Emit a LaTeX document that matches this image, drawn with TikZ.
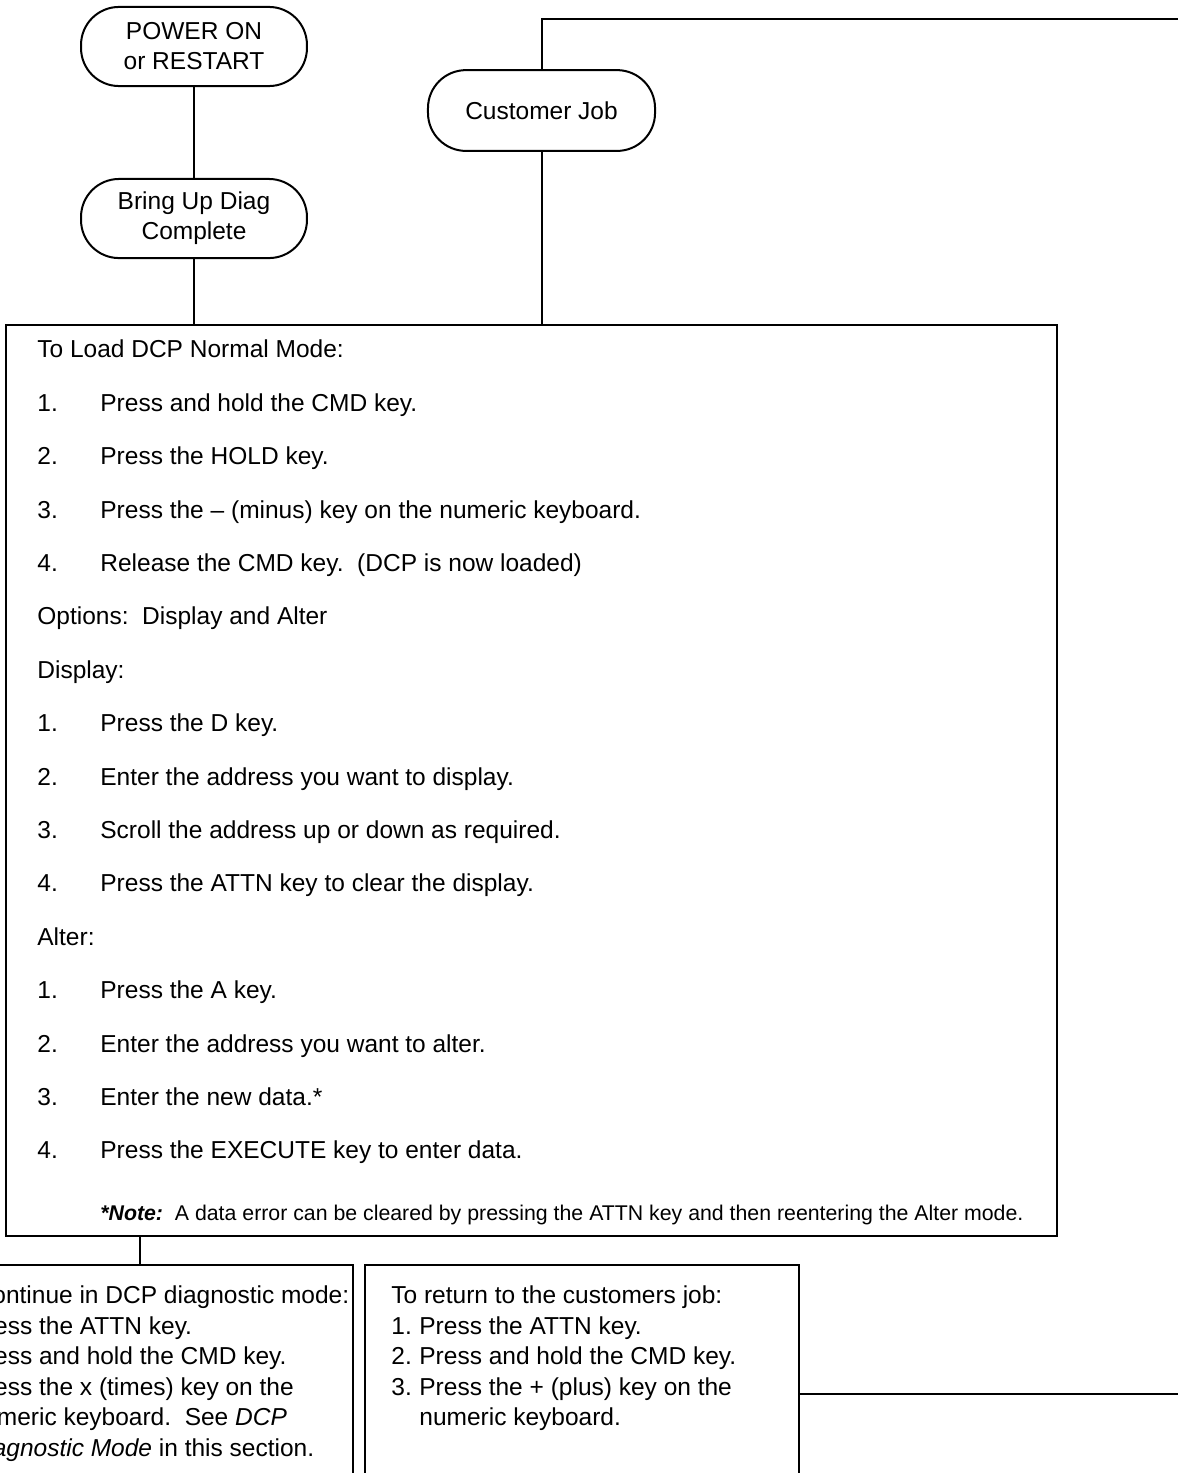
\documentclass[tikz,border=0pt]{standalone}
\usepackage{fontspec}
\setmainfont{Liberation Sans}
\tikzset{
  term/.style={rectangle, rounded corners=19pt, draw, line width=1pt, align=center,
               minimum width=3.97cm, minimum height=1.39cm, inner sep=2pt,
               font=\fontsize{12.25}{15}\selectfont},
  panel/.style={rectangle, draw, line width=1pt, inner sep=0pt},
  wire/.style={line width=1pt},
  row/.style={anchor=west, inner sep=0pt, text height=8.8pt, text depth=0pt,
              font=\fontsize{12.25}{14}\selectfont},
  fine/.style={anchor=west, inner sep=0pt, text height=7.6pt, text depth=0pt,
               font=\fontsize{10.65}{12}\selectfont},
}

\begin{document}
\begin{tikzpicture}
  \useasboundingbox (0,0) rectangle (20.70,-25.885);
  \clip (0,0) rectangle (20.70,-25.885);

  % --- terminals
  \node[term] (power) at (3.409,-0.817) {POWER ON\\or RESTART};
  \node[term] (diag)  at (3.409,-3.840) {Bring Up Diag\\Complete};
  \node[term, minimum width=3.99cm, minimum height=1.42cm] (cust) at (9.516,-1.942) {Customer Job};

  % --- main panel
  \node[panel, minimum width=18.47cm, minimum height=16.01cm] (dcp) at (9.340,-13.716) {};

  \coordinate (topend) at (21.2,-0.334);
  \coordinate (retend) at (21.2,-24.497);
  \draw[wire] (power) -- (diag);
  \draw[wire] (diag.south) -- (diag.south |- dcp.north);
  \draw[wire] (cust.south) -- (cust.south |- dcp.north);
  \draw[wire] (cust.north) |- (topend);

  % headings (rows 0, 5, 6, 11; pitch 0.9384)
  \node[row] (h0) at (0.650,-6.133)  {To Load DCP Normal Mode:};
  \node[row] (h1) at (0.650,-10.825) {Options:\ \ Display and Alter};
  \node[row] (h2) at (0.650,-11.763) {Display:};
  \node[row] (h3) at (0.650,-16.455) {Alter:};

  % numbered steps
  \foreach \i/\k/\t in {1/1/Press and hold the CMD key.,
                        2/2/Press the HOLD key.,
                        3/3/Press the -- (minus) key on the numeric keyboard.,
                        4/4/Release the CMD key.\ \ (DCP is now loaded),
                        7/1/Press the D key.,
                        8/2/Enter the address you want to display.,
                        9/3/Scroll the address up or down as required.,
                        10/4/Press the ATTN key to clear the display.,
                        12/1/Press the A key.,
                        13/2/Enter the address you want to alter.,
                        14/3/Enter the new data.*,
                        15/4/Press the EXECUTE key to enter data.}{
    \node[row] (n\i) at (0.650,{-6.133-0.9384*\i}) {\k.};
    \node[row] (s\i) at (1.757,{-6.133-0.9384*\i}) {\t};
  }
  \node[fine] (note) at (1.757,-21.316) {\textbf{\textit{*Note:}}\ \ A data error can be cleared by pressing the ATTN key and then reentering the Alter mode.};

  % --- lower panels
  \node[panel, minimum width=7.49cm, minimum height=4.66cm] (cont) at (2.460,-24.558) {};
  \node[panel, minimum width=7.63cm, minimum height=4.66cm] (back) at (10.228,-24.558) {};
  \draw[wire] (cont.north) -- (cont.north |- dcp.south);
  \draw[wire] (back.east |- retend) -- (retend);

  \node[row] (c0) at (-0.93,-22.757) {To continue in DCP diagnostic mode:};
  \node[row] (r0) at (6.871,-22.757) {To return to the customers job:};
  \foreach \i/\t in {1/Press the ATTN key., 2/Press and hold the CMD key.}{
    \node[row] (ck\i) at (-1.03,{-22.757-0.536*\i}) {\i.};
    \node[row] (ct\i) at (-0.54,{-22.757-0.536*\i}) {\t};
    \node[row] (rk\i) at (6.871,{-22.757-0.536*\i}) {\i.};
    \node[row] (rt\i) at (7.363,{-22.757-0.536*\i}) {\t};
  }
  \node[row] (ck3) at (-1.03,-24.365) {3.};
  \node[row] (ct3) at (-0.54,-24.365) {Press the x (times) key on the};
  \node[row] (ct4) at (-0.54,-24.901) {numeric keyboard.\ \ See \textit{DCP}};
  \node[row] (ct5) at (-0.54,-25.437) {\textit{Diagnostic Mode} in this section.};
  \node[row] (rk3) at (6.871,-24.365) {3.};
  \node[row] (rt3) at (7.363,-24.365) {Press the + (plus) key on the};
  \node[row] (rt4) at (7.363,-24.901) {numeric keyboard.};
\end{tikzpicture}
\end{document}
